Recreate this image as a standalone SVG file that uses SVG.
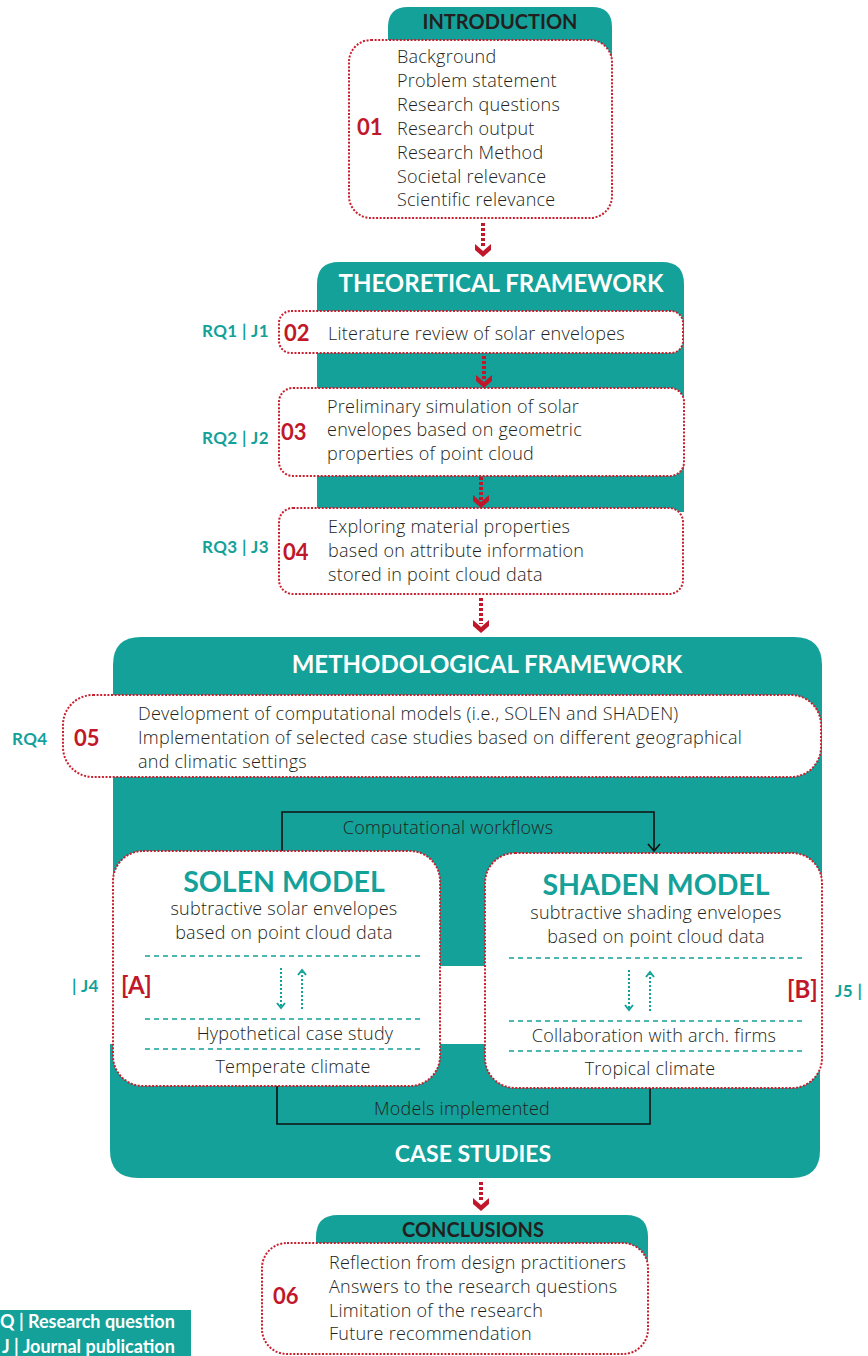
<svg xmlns="http://www.w3.org/2000/svg" xmlns:xlink="http://www.w3.org/1999/xlink" width="868" height="1356" viewBox="0 0 868 1356">
<style>
.teal{fill:#13a199}
.box{fill:#fff;stroke:#c8202e;stroke-width:2;stroke-dasharray:2 1.6}
.t{font-family:"Open Sans",Lato,sans-serif;font-size:18px;font-weight:300;letter-spacing:0.25px;fill:#231f20}
.tc{font-family:"Open Sans",Lato,sans-serif;font-size:18px;font-weight:300;letter-spacing:0.25px;fill:#231f20;text-anchor:middle}
.num{font-family:Lato,"Noto Sans",sans-serif;font-size:22px;font-weight:bold;fill:#c0182a}
.rq{font-family:Lato,"Noto Sans",sans-serif;font-size:17px;font-weight:bold;fill:#13a199;letter-spacing:0.4px}
.hw{font-family:Lato,"Noto Sans",sans-serif;font-size:24px;font-weight:bold;fill:#fff;text-anchor:middle}
.hd{font-family:Lato,"Noto Sans",sans-serif;font-size:20px;font-weight:bold;fill:#231f20;text-anchor:middle}
.model{font-family:Lato,"Noto Sans",sans-serif;font-size:28.5px;font-weight:bold;fill:#13a199;text-anchor:middle}
.dash{stroke:#13a199;stroke-width:1.3;stroke-dasharray:5 4;fill:none}
.conn{stroke:#111;stroke-width:1.6;fill:none}
.shaft{stroke:#c0182a;stroke-width:4;stroke-dasharray:3 2;fill:none}
.ts{stroke:#13a199;stroke-width:2;stroke-dasharray:2 2;fill:none}
.th{stroke:#13a199;stroke-width:2;fill:none}
.lg{font-family:Lato,"Noto Sans",sans-serif;font-size:18px;font-weight:bold;fill:#fff}
</style>
<defs>
<g id="chev"><polygon points="-8,-12 0,-5 8,-12 8,-6 0,1 -8,-6" fill="#c0182a"/></g>
</defs>

<g id="introduction">
<path class="teal" d="M388 60 V27 Q388 7 408 7 H592 Q612 7 612 27 V60 Z"/>
<text class="hd" x="500" y="29">INTRODUCTION</text>
<rect class="box" x="349" y="40" width="263" height="178" rx="22"/>
<text class="num" x="357" y="135">01</text>
<text class="t" x="397" y="63">Background</text>
<text class="t" x="397" y="87">Problem statement</text>
<text class="t" x="397" y="111">Research questions</text>
<text class="t" x="397" y="135">Research output</text>
<text class="t" x="397" y="159">Research Method</text>
<text class="t" x="397" y="183">Societal relevance</text>
<text class="t" x="397" y="206">Scientific relevance</text>
</g>

<g id="theoretical-framework">
<path class="teal" d="M317 512 V284 Q317 262 339 262 H662 Q684 262 684 284 V512 Z"/>
<text class="hw" x="501" y="292">THEORETICAL FRAMEWORK</text>
</g>

<g id="box02">
<rect class="box" x="279" y="311" width="404" height="42" rx="12"/>
<text class="num" x="284" y="341">02</text>
<text class="t" x="328" y="340">Literature review of solar envelopes</text>
<text class="rq" x="202" y="337">RQ1 | J1</text>
</g>

<g id="box03">
<rect class="box" x="279" y="388" width="405" height="88" rx="14"/>
<text class="num" x="281" y="440">03</text>
<text class="t" x="327" y="413">Preliminary simulation of solar</text>
<text class="t" x="327" y="436">envelopes based on geometric</text>
<text class="t" x="327" y="460">properties of point cloud</text>
<text class="rq" x="202" y="444">RQ2 | J2</text>
</g>

<g id="box04">
<rect class="box" x="279" y="508" width="404" height="86" rx="14"/>
<text class="num" x="283" y="560">04</text>
<text class="t" x="328" y="533">Exploring material properties</text>
<text class="t" x="328" y="557">based on attribute information</text>
<text class="t" x="328" y="581">stored in point cloud data</text>
<text class="rq" x="202" y="553">RQ3 | J3</text>
</g>

<g id="methodological-framework">
<path class="teal" d="M113 966 V665 Q113 637 141 637 H794 Q822 637 822 665 V966 Z"/>
<text class="hw" x="487" y="673">METHODOLOGICAL FRAMEWORK</text>
</g>

<g id="case-studies">
<path class="teal" d="M110 1044 H820 V1150 Q820 1178 792 1178 H138 Q110 1178 110 1150 Z"/>
<text class="hw" x="473" y="1162" style="font-size:23px">CASE STUDIES</text>
</g>

<g id="box05">
<rect class="box" x="63" y="695" width="758" height="82" rx="30"/>
<text class="num" x="74" y="746">05</text>
<text class="t" x="138" y="720">Development of computational models (i.e., SOLEN and SHADEN)</text>
<text class="t" x="138" y="744">Implementation of selected case studies based on different geographical</text>
<text class="t" x="138" y="768">and climatic settings</text>
<text class="rq" x="12" y="745">RQ4</text>
</g>

<g id="connectors">
<line class="shaft" x1="483" y1="223" x2="483" y2="248"/>
<use xlink:href="#chev" x="483" y="256"/>
<line class="shaft" x1="484" y1="356" x2="484" y2="380"/>
<use xlink:href="#chev" x="484" y="387"/>
<line class="shaft" x1="481" y1="477" x2="481" y2="500"/>
<use xlink:href="#chev" x="481" y="507"/>
<line class="shaft" x1="481" y1="598" x2="481" y2="624"/>
<use xlink:href="#chev" x="481" y="632"/>
<line class="shaft" x1="481" y1="1182" x2="481" y2="1202"/>
<use xlink:href="#chev" x="481" y="1210"/>
<path class="conn" d="M282 852 V812 H654 V850"/>
<path class="conn" d="M648 844 L654 851 L660 844"/>
<text class="tc" x="448" y="834">Computational workflows</text>
<path class="conn" d="M277 1086 V1124 H650 V1088"/>
<text class="tc" x="462" y="1115">Models implemented</text>
</g>

<g id="solen-model">
<rect class="box" x="113" y="851" width="327" height="235" rx="30"/>
<text class="model" x="284" y="892">SOLEN MODEL</text>
<text class="tc" x="284" y="915">subtractive solar envelopes</text>
<text class="tc" x="284" y="939">based on point cloud data</text>
<line class="dash" x1="145" y1="956" x2="420" y2="956"/>
<line class="dash" x1="145" y1="1019" x2="420" y2="1019"/>
<line class="dash" x1="145" y1="1049" x2="420" y2="1049"/>
<line class="ts" x1="281" y1="968" x2="281" y2="1006"/>
<path class="th" d="M277 1003 L281 1008 L285 1003"/>
<line class="ts" x1="302" y1="1009" x2="302" y2="972"/>
<path class="th" d="M298 975 L302 970 L306 975"/>
<text class="tc" x="295" y="1040">Hypothetical case study</text>
<text class="tc" x="293" y="1073">Temperate climate</text>
<text class="num" x="121" y="994" style="font-size:24px">[A]</text>
<text class="rq" x="72" y="992">| J4</text>
</g>

<g id="shaden-model">
<rect class="box" x="485" y="853" width="337" height="235" rx="30"/>
<text class="model" x="656" y="895">SHADEN MODEL</text>
<text class="tc" x="656" y="919">subtractive shading envelopes</text>
<text class="tc" x="656" y="943">based on point cloud data</text>
<line class="dash" x1="509" y1="958" x2="803" y2="958"/>
<line class="dash" x1="509" y1="1021" x2="803" y2="1021"/>
<line class="dash" x1="509" y1="1051" x2="803" y2="1051"/>
<line class="ts" x1="629" y1="970" x2="629" y2="1008"/>
<path class="th" d="M625 1005 L629 1010 L633 1005"/>
<line class="ts" x1="650" y1="1011" x2="650" y2="974"/>
<path class="th" d="M646 977 L650 972 L654 977"/>
<text class="tc" x="654" y="1042">Collaboration with arch. firms</text>
<text class="tc" x="650" y="1075">Tropical climate</text>
<text class="num" x="787" y="998" style="font-size:24px">[B]</text>
<text class="rq" x="835" y="997">J5 |</text>
</g>

<g id="conclusions">
<path class="teal" d="M316 1262 V1237 Q316 1215 338 1215 H626 Q648 1215 648 1237 V1262 Z"/>
<text class="hd" x="473" y="1237">CONCLUSIONS</text>
<rect class="box" x="262" y="1243" width="386" height="111" rx="25"/>
<text class="num" x="273" y="1304">06</text>
<text class="t" x="329" y="1269">Reflection from design practitioners</text>
<text class="t" x="329" y="1293">Answers to the research questions</text>
<text class="t" x="329" y="1317">Limitation of the research</text>
<text class="t" x="329" y="1340">Future recommendation</text>
</g>

<g id="legend">
<rect class="teal" x="0" y="1310" width="191" height="46"/>
<text class="lg" x="0" y="1328">Q | Research question</text>
<text class="lg" x="2" y="1353">J | Journal publication</text>
</g>
</svg>
